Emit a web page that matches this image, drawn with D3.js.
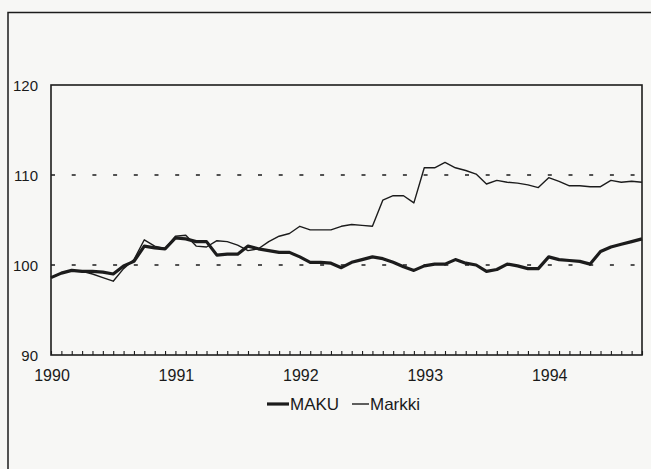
<!DOCTYPE html>
<html><head><meta charset="utf-8">
<script src="https://cdn.jsdelivr.net/npm/d3@7"></script>
<style>
html,body{margin:0;padding:0;background:#f7f7f5;}
svg{display:block;}
text{font-family:"Liberation Sans",Arial,Helvetica,sans-serif;fill:#1a1a1a;}
</style></head>
<body>
<svg id="chart" width="651" height="469"></svg>
<script>
// Monthly index values, Jan 1990 .. Oct 1994
const startYear = 1990;
const yearLabels = ["1990","1991","1992","1993","1994"];
const yTicks = [90,100,110,120];
const gridValues = [100,110];
const seriesNames = ["MAKU","Markki"];
const maku = [98.6,99.1,99.4,99.3,99.3,99.2,99.0,99.9,100.4,102.1,101.9,101.8,
  103.0,102.9,102.6,102.6,101.1,101.2,101.2,102.1,101.8,101.6,101.4,101.4,
  100.9,100.3,100.3,100.2,99.7,100.3,100.6,100.9,100.7,100.3,99.8,99.4,
  99.9,100.1,100.1,100.6,100.2,100.0,99.3,99.5,100.1,99.9,99.6,99.6,
  100.9,100.6,100.5,100.4,100.1,101.5,102.0,102.3,102.6,102.9];
const markki = [98.6,99.1,99.4,99.3,99.0,98.6,98.2,99.6,100.6,102.8,102.1,101.8,
  103.2,103.3,102.1,102.0,102.7,102.6,102.2,101.6,101.8,102.6,103.2,103.5,
  104.3,103.9,103.9,103.9,104.3,104.5,104.4,104.3,107.2,107.7,107.7,106.9,
  110.8,110.8,111.4,110.8,110.5,110.1,109.0,109.4,109.2,109.1,108.9,108.6,
  109.7,109.3,108.8,108.8,108.7,108.7,109.4,109.2,109.3,109.2];

const svg = d3.select("#chart");
const L = 51, R = 642, T = 85, B = 355;
const n = maku.length;
const x = d3.scaleLinear().domain([0, n - 1]).range([L, R]);
const y = d3.scaleLinear().domain([90, 120]).range([B, T]);
const ink = "#1c1c1c";

// outer frame (top and left visible)
svg.append("path").attr("d", "M8,470 L8,12.5 L652,12.5")
  .attr("fill","none").attr("stroke", ink).attr("stroke-width", 1.5);

// dashed gridlines
svg.append("g").selectAll("line").data(gridValues).join("line")
  .attr("x1", L).attr("x2", R)
  .attr("y1", d => y(d)).attr("y2", d => y(d))
  .attr("stroke", ink).attr("stroke-width", 1.6)
  .attr("stroke-dasharray", "4,16.7");

// x axis monthly ticks (inside)
const xAxis = d3.axisBottom(x).tickValues(d3.range(0, n)).tickSize(-4).tickFormat("");
const gx = svg.append("g").attr("transform", `translate(0,${B})`).call(xAxis);
gx.select(".domain").remove();
gx.selectAll(".tick line").attr("stroke", ink).attr("stroke-width", 1.1);

// year labels
svg.append("g").selectAll("text").data(yearLabels).join("text")
  .attr("x", (d, i) => x(i * 12) + 1)
  .attr("y", 381)
  .attr("text-anchor", "middle")
  .attr("font-size", 16)
  .text(d => d);

// y labels
svg.append("g").selectAll("text").data(yTicks).join("text")
  .attr("x", 38)
  .attr("y", d => y(d) + 5.5)
  .attr("text-anchor", "end")
  .attr("font-size", 15)
  .text(d => d);

// plot border
svg.append("rect").attr("x", L).attr("y", T).attr("width", R - L).attr("height", B - T)
  .attr("fill", "none").attr("stroke", ink).attr("stroke-width", 1.6);

const line = d3.line().x((d, i) => x(i)).y(d => y(d));
svg.append("path").datum(markki).attr("d", line)
  .attr("fill", "none").attr("stroke", ink).attr("stroke-width", 1.4).attr("stroke-linejoin","round");
svg.append("path").datum(maku).attr("d", line)
  .attr("fill", "none").attr("stroke", ink).attr("stroke-width", 3.2).attr("stroke-linejoin","round");

// legend
const legend = svg.append("g");
const items = [
  {name: seriesNames[0], x0: 267, x1: 289, w: 3.2},
  {name: seriesNames[1], x0: 352, x1: 369, w: 1.4}
];
items.forEach(it => {
  legend.append("line").attr("x1", it.x0).attr("x2", it.x1).attr("y1", 404).attr("y2", 404)
    .attr("stroke", ink).attr("stroke-width", it.w);
  legend.append("text").attr("x", it.x1 + 1).attr("y", 410).attr("font-size", 17).text(it.name);
});
</script>
</body></html>
